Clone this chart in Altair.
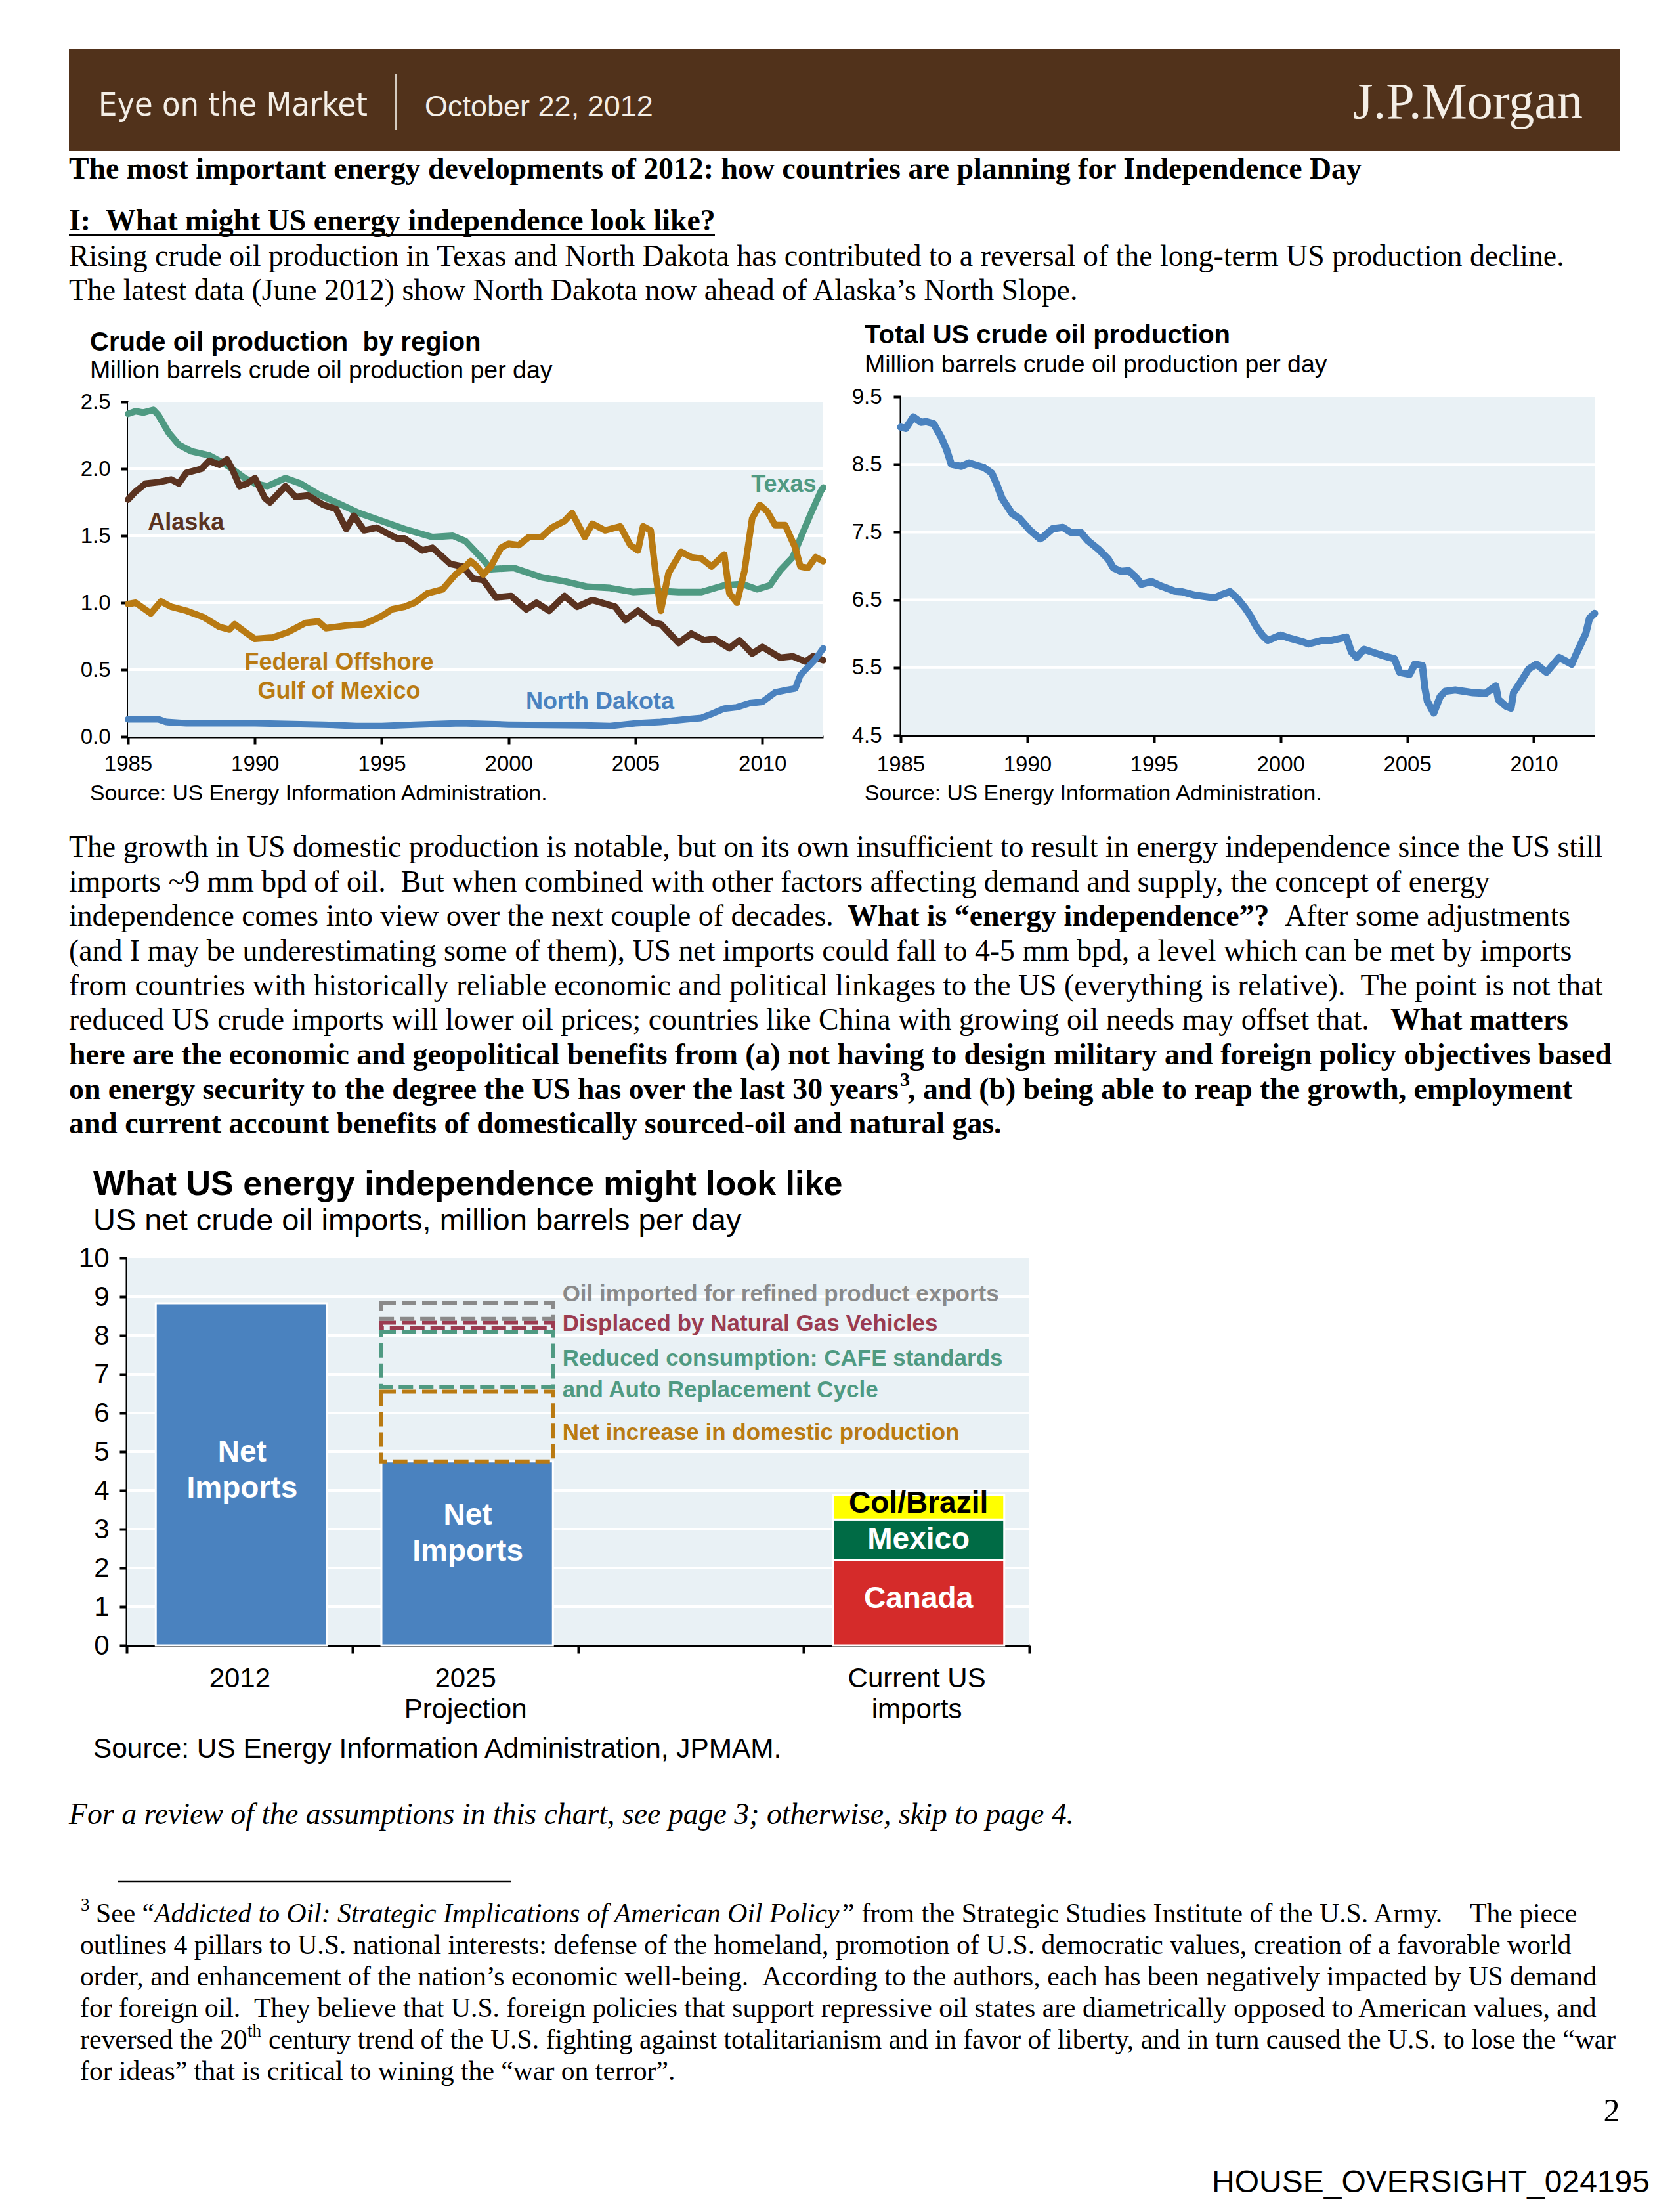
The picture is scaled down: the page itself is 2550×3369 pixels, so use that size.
import altair as alt
import pandas as pd

# ---------------------------------------------------------------- data
YEAR_TICKS = [1985, 1990, 1995, 2000, 2005, 2010]
REGION_Y_TICKS = [0.0, 0.5, 1.0, 1.5, 2.0, 2.5]
REGION_GRID = [0.5, 1.0, 1.5, 2.0]
TOTAL_Y_TICKS = [4.5, 5.5, 6.5, 7.5, 8.5, 9.5]
TOTAL_GRID = [5.5, 6.5, 7.5, 8.5]

texas_year = [1985.0, 1985.3, 1985.6, 1986.0, 1986.2, 1986.6, 1987.0, 1987.5, 1988.2, 1988.7,
              1989.1, 1989.6, 1990.0, 1990.5, 1991.2, 1991.8, 1992.5, 1993.2, 1994.1, 1995.0,
              1995.9, 1997.0, 1997.8, 1998.3, 1998.7, 1999.0, 1999.3, 2000.2, 2001.3, 2002.2,
              2003.1, 2004.0, 2004.9, 2005.8, 2006.7, 2007.6, 2008.5, 2009.2, 2009.8, 2010.3,
              2010.7, 2011.2, 2011.5, 2011.9, 2012.3, 2012.4]
texas_mbd = [2.41, 2.43, 2.42, 2.44, 2.40, 2.27, 2.18, 2.13, 2.10, 2.05,
             2.00, 1.93, 1.89, 1.87, 1.93, 1.89, 1.81, 1.75, 1.67, 1.61,
             1.55, 1.49, 1.50, 1.46, 1.38, 1.32, 1.25, 1.26, 1.19, 1.16,
             1.12, 1.11, 1.08, 1.09, 1.08, 1.08, 1.13, 1.14, 1.10, 1.13,
             1.24, 1.34, 1.48, 1.66, 1.83, 1.86]

alaska_year = [1985.0, 1985.3, 1985.7, 1986.2, 1986.7, 1987.0, 1987.3, 1987.9, 1988.2, 1988.6,
               1988.9, 1989.1, 1989.4, 1989.7, 1990.0, 1990.4, 1990.6, 1991.2, 1991.6, 1992.1,
               1992.7, 1993.2, 1993.6, 1993.9, 1994.3, 1994.8, 1995.6, 1995.9, 1996.6, 1997.0,
               1997.7, 1998.2, 1998.6, 1999.0, 1999.5, 2000.1, 2000.7, 2001.1, 2001.6, 2002.2,
               2002.7, 2003.3, 2004.2, 2004.6, 2005.1, 2005.7, 2006.0, 2006.7, 2007.2, 2007.7,
               2008.1, 2008.7, 2009.1, 2009.6, 2010.0, 2010.7, 2011.2, 2011.7, 2012.0, 2012.4]
alaska_mbd = [1.77, 1.83, 1.89, 1.90, 1.92, 1.89, 1.97, 2.00, 2.06, 2.03,
              2.07, 2.00, 1.87, 1.89, 1.93, 1.78, 1.75, 1.87, 1.79, 1.80,
              1.73, 1.70, 1.55, 1.65, 1.54, 1.56, 1.48, 1.48, 1.39, 1.41,
              1.29, 1.27, 1.18, 1.17, 1.04, 1.05, 0.95, 1.00, 0.94, 1.05,
              0.97, 1.02, 0.97, 0.87, 0.94, 0.85, 0.84, 0.70, 0.77, 0.72,
              0.73, 0.66, 0.72, 0.62, 0.67, 0.59, 0.60, 0.56, 0.60, 0.57]

gulf_year = [1985.0, 1985.3, 1985.9, 1986.3, 1986.7, 1987.3, 1988.0, 1988.6, 1989.0, 1989.2,
             1989.7, 1990.0, 1990.7, 1991.3, 1992.0, 1992.5, 1992.8, 1993.6, 1994.3, 1995.0,
             1995.4, 1995.9, 1996.3, 1996.8, 1997.4, 1997.9, 1998.3, 1998.5, 1998.7, 1999.0,
             1999.3, 1999.7, 2000.0, 2000.4, 2000.8, 2001.3, 2001.7, 2002.2, 2002.5, 2003.0,
             2003.3, 2003.8, 2004.4, 2004.8, 2005.1, 2005.3, 2005.6, 2005.8, 2006.0, 2006.3,
             2006.8, 2007.2, 2007.6, 2008.0, 2008.5, 2008.7, 2009.0, 2009.3, 2009.6, 2009.9,
             2010.2, 2010.5, 2010.9, 2011.3, 2011.5, 2011.8, 2012.1, 2012.4]
gulf_mbd = [0.99, 1.00, 0.92, 1.01, 0.97, 0.94, 0.89, 0.82, 0.80, 0.84,
            0.77, 0.73, 0.74, 0.78, 0.85, 0.86, 0.81, 0.83, 0.84, 0.90,
            0.95, 0.97, 1.00, 1.07, 1.10, 1.21, 1.27, 1.31, 1.28, 1.21,
            1.27, 1.41, 1.44, 1.43, 1.49, 1.49, 1.56, 1.61, 1.67, 1.49,
            1.59, 1.54, 1.57, 1.43, 1.39, 1.57, 1.54, 1.21, 0.94, 1.22,
            1.38, 1.34, 1.33, 1.27, 1.36, 1.07, 1.00, 1.24, 1.63, 1.73,
            1.68, 1.58, 1.58, 1.41, 1.27, 1.26, 1.34, 1.31]

nd_year = [1985.0, 1986.2, 1986.5, 1987.3, 1990.0, 1992.7, 1994.0, 1995.0, 1996.3, 1998.1,
           2000.0, 2003.0, 2004.0, 2005.0, 2006.0, 2007.0, 2007.6, 2008.0, 2008.5, 2009.0,
           2009.5, 2010.0, 2010.5, 2011.0, 2011.3, 2011.5, 2011.8, 2012.1, 2012.4]
nd_mbd = [0.13, 0.13, 0.11, 0.10, 0.10, 0.09, 0.08, 0.08, 0.09, 0.10,
          0.09, 0.085, 0.08, 0.10, 0.11, 0.13, 0.14, 0.17, 0.21, 0.22,
          0.25, 0.26, 0.33, 0.35, 0.36, 0.46, 0.52, 0.58, 0.66]

total_year = [1985.0, 1985.2, 1985.5, 1985.8, 1986.0, 1986.3, 1986.6, 1986.8, 1987.0, 1987.4,
              1987.7, 1988.3, 1988.6, 1988.8, 1989.0, 1989.4, 1989.7, 1990.1, 1990.5, 1990.6,
              1991.0, 1991.4, 1991.7, 1992.1, 1992.4, 1992.8, 1993.2, 1993.4, 1993.7, 1994.0,
              1994.3, 1994.5, 1994.9, 1995.3, 1995.8, 1996.1, 1996.6, 1997.0, 1997.4, 1997.7,
              1998.0, 1998.3, 1998.6, 1998.8, 1999.05, 1999.3, 1999.5, 2000.0, 2000.4, 2000.9,
              2001.1, 2001.6, 2002.0, 2002.6, 2002.8, 2003.0, 2003.3, 2003.7, 2004.1, 2004.5,
              2004.7, 2005.1, 2005.3, 2005.6, 2005.7, 2005.8, 2006.05, 2006.3, 2006.5, 2006.9,
              2007.6, 2008.1, 2008.5, 2008.6, 2008.9, 2009.1, 2009.2, 2009.5, 2009.8, 2010.1,
              2010.5, 2011.0, 2011.5, 2011.7, 2012.05, 2012.2, 2012.4]
total_mbd = [9.05, 9.03, 9.20, 9.12, 9.13, 9.10, 8.90, 8.73, 8.50, 8.47,
             8.52, 8.45, 8.37, 8.20, 8.00, 7.77, 7.70, 7.53, 7.40, 7.42,
             7.55, 7.57, 7.50, 7.50, 7.37, 7.25, 7.10, 6.97, 6.92, 6.93,
             6.83, 6.73, 6.77, 6.70, 6.63, 6.62, 6.57, 6.55, 6.53, 6.58,
             6.62, 6.52, 6.38, 6.27, 6.10, 5.97, 5.90, 5.98, 5.93, 5.88,
             5.85, 5.90, 5.90, 5.95, 5.73, 5.65, 5.77, 5.72, 5.67, 5.63,
             5.43, 5.40, 5.55, 5.53, 5.20, 5.00, 4.83, 5.07, 5.15, 5.17,
             5.13, 5.12, 5.23, 5.03, 4.93, 4.90, 5.13, 5.30, 5.48, 5.55,
             5.43, 5.65, 5.55, 5.72, 6.00, 6.23, 6.30]

# bar chart
BAR_CATEGORIES = ["2012", "2025|Projection", "gap", "Current US|imports"]
SOLID_CAT = ["2012", "2025|Projection", "Current US|imports", "Current US|imports", "Current US|imports"]
SOLID_SEG = ["Net imports 2012", "Net imports 2025", "Canada", "Mexico", "Col/Brazil"]
SOLID_VAL = [8.83, 4.75, 2.2, 1.05, 0.63]
BOX_SEG = ["Net increase in domestic production", "Reduced consumption",
           "Displaced by Natural Gas Vehicles", "Oil imported for refined product exports"]
BOX_LO = [4.75, 6.67, 8.19, 8.43]
BOX_HI = [6.55, 8.09, 8.33, 8.83]
BAR_Y_TICKS = list(range(0, 11))
BAR_GRID = list(range(1, 10))

# ---------------------------------------------------------------- style
SANS = "'Liberation Sans', Arial, sans-serif"
COND = "'DejaVu Sans Condensed', 'Liberation Sans', sans-serif"
SERIF = "'Liberation Serif', 'Times New Roman', serif"
BROWN_HDR = "#51321B"
CREAM = "#F4EEE6"
BG = "#E9F1F5"
TEAL = "#4F9A82"
ALASKA = "#5B3320"
GOLD = "#B97A12"
BLUE = "#4A82BF"
RED = "#D52B2A"
MEX = "#006B45"
YELLOW = "#FFFF00"
MAROON = "#9B3B50"
GRAY = "#8A8A8A"
BODY = 45.8
PAGE_W = 2534
NB = "\u00a0"

ONE = pd.DataFrame({"k": [0]})


def keep_spaces(s):
    return s.replace("  ", " " + NB)


def T(text, x, y, size, font=SERIF, weight="normal", style="normal", color="black",
      align="left", baseline="middle"):
    return alt.Chart(ONE).mark_text(
        text=keep_spaces(text), font=font, fontSize=size, fontWeight=weight, fontStyle=style,
        color=color, align=align, baseline=baseline
    ).encode(x=alt.value(x), y=alt.value(y))


def rect(x0, x1, y0, y1, color):
    return alt.Chart(ONE).mark_rect(color=color).encode(
        x=alt.value(x0), x2=alt.value(x1), y=alt.value(y0), y2=alt.value(y1))


def axis_x(pad, offset=0):
    return alt.Axis(values=YEAR_TICKS, format="d", title=None, grid=False, orient="bottom",
                    offset=offset, domainColor="black", domainWidth=4, tickColor="black",
                    tickWidth=4, tickSize=11, labelFont=SANS, labelFontSize=33,
                    labelColor="black", labelPadding=pad, labelFlush=False, labelOverlap=False)


def axis_y(vals, pad, offset, size=33, fmt=".1f"):
    return alt.Axis(values=vals, format=fmt, title=None, grid=False, orient="left",
                    offset=offset, domainColor="black", domainWidth=4, tickColor="black",
                    tickWidth=4, tickSize=11, labelFont=SANS, labelFontSize=size,
                    labelColor="black", labelPadding=pad, labelFlush=False, labelOverlap=False)


# ---------------------------------------------------------------- row B: two line charts
HB = 518
X1L, X1R, Y1T, Y1B = 187, 1246, 8, 518
X2L, X2R, Y2T, Y2B = 1364, 2421, 0, 516

xs1 = alt.Scale(domain=[1985, 2012.4], nice=False, zero=False, range=[X1L, X1R])
ys1 = alt.Scale(domain=[0, 2.5], nice=False, zero=False, range=[Y1B, Y1T])
xa1 = axis_x(14, 0)
ya1 = axis_y(REGION_Y_TICKS, 16, -X1L)

layers1 = [rect(X1L, X1R, Y1T, Y1B, BG),
           alt.Chart(pd.DataFrame({"g": REGION_GRID})).mark_rule(color="white", strokeWidth=4).encode(
               y=alt.Y("g:Q", scale=ys1, axis=ya1), x=alt.value(X1L), x2=alt.value(X1R))]
for yrs, vals, col in [(texas_year, texas_mbd, TEAL), (alaska_year, alaska_mbd, ALASKA),
                       (gulf_year, gulf_mbd, GOLD), (nd_year, nd_mbd, BLUE)]:
    df = pd.DataFrame({"year": yrs, "mbd": vals})
    layers1.append(alt.Chart(df).mark_line(color=col, strokeWidth=10, strokeJoin="round",
                                           strokeCap="round").encode(
        x=alt.X("year:Q", scale=xs1, axis=xa1), y=alt.Y("mbd:Q", scale=ys1, axis=ya1)))

REGION_LABELS = ["Texas", "Alaska", "Federal Offshore", "Gulf of Mexico", "North Dakota"]
REGION_LABEL_X = [2012.13, 1985.78, 1993.32, 1993.32, 2000.68]
REGION_LABEL_Y = [1.88, 1.60, 0.554, 0.338, 0.26]
REGION_LABEL_COL = [TEAL, ALASKA, GOLD, GOLD, BLUE]
REGION_LABEL_ALIGN = ["right", "left", "center", "center", "left"]
for i, lab in enumerate(REGION_LABELS):
    df = pd.DataFrame({"year": [REGION_LABEL_X[i]], "mbd": [REGION_LABEL_Y[i]]})
    layers1.append(alt.Chart(df).mark_text(text=lab, font=SANS, fontSize=36, fontWeight="bold",
                                           color=REGION_LABEL_COL[i], align=REGION_LABEL_ALIGN[i],
                                           baseline="middle").encode(
        x=alt.X("year:Q", scale=xs1, axis=xa1), y=alt.Y("mbd:Q", scale=ys1, axis=ya1)))
chart1 = alt.layer(*layers1)

xs2 = alt.Scale(domain=[1985, 2012.4], nice=False, zero=False, range=[X2L, X2R])
ys2 = alt.Scale(domain=[4.5, 9.5], nice=False, zero=False, range=[Y2B, Y2T])
xa2 = axis_x(17, Y2B - HB)
ya2 = axis_y(TOTAL_Y_TICKS, 18, -X2L)
grid2 = alt.Chart(pd.DataFrame({"g": TOTAL_GRID})).mark_rule(color="white", strokeWidth=4).encode(
    y=alt.Y("g:Q", scale=ys2, axis=ya2), x=alt.value(X2L), x2=alt.value(X2R))
line2 = alt.Chart(pd.DataFrame({"year": total_year, "mbd": total_mbd})).mark_line(
    color=BLUE, strokeWidth=11, strokeJoin="round", strokeCap="round").encode(
    x=alt.X("year:Q", scale=xs2, axis=xa2), y=alt.Y("mbd:Q", scale=ys2, axis=ya2))
chart2 = alt.layer(rect(X2L, X2R, Y2T, Y2B, BG), grid2, line2)

rowB = alt.layer(chart1, chart2).resolve_scale(
    x="independent", y="independent").resolve_axis(
    x="independent", y="independent").properties(width=PAGE_W, height=HB)

# ---------------------------------------------------------------- row D: bar chart
HD = 590
X3L, X3R = 185, 1560
xs3 = alt.Scale(domain=BAR_CATEGORIES, paddingInner=0, paddingOuter=0, range=[X3L, X3R])
ys3 = alt.Scale(domain=[0, 10], nice=False, zero=True)
xa3 = alt.Axis(title=None, labelExpr="datum.label == 'gap' ? '' : split(datum.label, '|')",
               tickBand="extent", tickSize=12, tickWidth=4, tickColor="black",
               domainColor="black", domainWidth=4, labelFont=SANS, labelFontSize=42,
               labelColor="black", labelPadding=18, labelLineHeight=47, labelAngle=0,
               labelLimit=1000, grid=False, orient="bottom")
ya3 = alt.Axis(values=BAR_Y_TICKS, format="d", title=None, grid=False, domainColor="black",
               domainWidth=4, tickColor="black", tickWidth=4, tickSize=11, labelFont=SANS,
               labelFontSize=42, labelColor="black", labelPadding=16, labelFlush=False,
               labelOverlap=False, orient="left", offset=-X3L)
BARW = alt.RelativeBandSize(0.76)

grid3 = alt.Chart(pd.DataFrame({"g": BAR_GRID})).mark_rule(color="white", strokeWidth=4).encode(
    y=alt.Y("g:Q", scale=ys3, axis=ya3), x=alt.value(X3L), x2=alt.value(X3R))
solid_df = pd.DataFrame({"cat": SOLID_CAT, "seg": SOLID_SEG, "val": SOLID_VAL,
                         "ord": list(range(len(SOLID_SEG)))})
bars = alt.Chart(solid_df).mark_bar(width=BARW, stroke="white", strokeWidth=3, xOffset=3).encode(
    x=alt.X("cat:N", scale=xs3, axis=xa3),
    y=alt.Y("val:Q", scale=ys3, axis=ya3, stack="zero"),
    color=alt.Color("seg:N", scale=alt.Scale(domain=SOLID_SEG, range=[BLUE, BLUE, RED, MEX, YELLOW]),
                    legend=None),
    order=alt.Order("ord:Q"))
box_df = pd.DataFrame({"cat": ["2025|Projection"] * len(BOX_SEG), "seg": BOX_SEG,
                       "lo": BOX_LO, "hi": BOX_HI})
boxes = alt.Chart(box_df).mark_bar(width=BARW, fillOpacity=0, strokeWidth=6, xOffset=3,
                                   strokeDash=[22, 9]).encode(
    x=alt.X("cat:N", scale=xs3, axis=xa3),
    y=alt.Y("lo:Q", scale=ys3, axis=ya3), y2="hi:Q",
    stroke=alt.Stroke("seg:N", scale=alt.Scale(domain=BOX_SEG, range=[GOLD, TEAL, MAROON, GRAY]),
                      legend=None))

layers3 = [rect(X3L, X3R, 0, HD, BG), grid3, bars, boxes]
NET_LABEL_CAT = ["2012", "2025|Projection"]
NET_LABEL_Y = [4.98, 3.36]
for c, yv in zip(NET_LABEL_CAT, NET_LABEL_Y):
    df = pd.DataFrame({"cat": [c], "y": [yv]})
    layers3.append(alt.Chart(df).mark_text(text=["Net", "Imports"], lineHeight=55, font=SANS,
                                           fontSize=46, fontWeight="bold", color="white",
                                           align="center", baseline="middle", dx=4).encode(
        x=alt.X("cat:N", scale=xs3, axis=xa3), y=alt.Y("y:Q", scale=ys3, axis=ya3)))
STACK_LABELS = ["Canada", "Mexico", "Col/Brazil"]
STACK_LABEL_Y = [1.2, 2.73, 3.66]
STACK_LABEL_COL = ["white", "white", "black"]
for lab, yv, col in zip(STACK_LABELS, STACK_LABEL_Y, STACK_LABEL_COL):
    df = pd.DataFrame({"cat": ["Current US|imports"], "y": [yv]})
    layers3.append(alt.Chart(df).mark_text(text=lab, font=SANS, fontSize=46, fontWeight="bold",
                                           color=col, align="center", baseline="middle", dx=3).encode(
        x=alt.X("cat:N", scale=xs3, axis=xa3), y=alt.Y("y:Q", scale=ys3, axis=ya3)))
LEG_TEXT = ["Oil imported for refined product exports", "Displaced by Natural Gas Vehicles",
            "Reduced consumption: CAFE standards", "and Auto Replacement Cycle",
            "Net increase in domestic production"]
LEG_Y = [9.06, 8.30, 7.40, 6.60, 5.50]
LEG_COL = [GRAY, MAROON, TEAL, TEAL, GOLD]
for lab, yv, col in zip(LEG_TEXT, LEG_Y, LEG_COL):
    df = pd.DataFrame({"cat": ["2025|Projection"], "y": [yv]})
    layers3.append(alt.Chart(df).mark_text(text=lab, font=SANS, fontSize=35, fontWeight="bold",
                                           color=col, align="left", baseline="middle", dx=148).encode(
        x=alt.X("cat:N", scale=xs3, axis=xa3), y=alt.Y("y:Q", scale=ys3, axis=ya3)))
rowD = alt.layer(*layers3).properties(width=PAGE_W, height=HD)

# ---------------------------------------------------------------- page text
HEAD_TITLE = "The most important energy developments of 2012: how countries are planning for Independence Day"
HEAD_SECTION = "I:  What might US energy independence look like?"
INTRO = ["Rising crude oil production in Texas and North Dakota has contributed to a reversal of the long-term US production decline.",
         "The latest data (June 2012) show North Dakota now ahead of Alaska\u2019s North Slope."]

rowA_layers = [
    rect(97, 2460, 67, 222, BROWN_HDR),
    T("Eye on the Market", 142, 153, 50, font=COND, color=CREAM),
    alt.Chart(ONE).mark_rule(color="#D5CCC1", strokeWidth=2).encode(
        x=alt.value(595), y=alt.value(104), y2=alt.value(190)),
    T("October 22, 2012", 639, 155, 45, font=SANS, color=CREAM),
    T("J.P.Morgan", 2403, 172, 78, font=SERIF, color=CREAM, align="right", baseline="alphabetic"),
    T(HEAD_TITLE, 97, 250, BODY, weight="bold"),
    T(HEAD_SECTION, 97, 329, BODY, weight="bold"),
    alt.Chart(ONE).mark_rule(color="black", strokeWidth=3).encode(
        x=alt.value(97), x2=alt.value(1081), y=alt.value(350)),
    T(INTRO[0], 97, 383, BODY),
    T(INTRO[1], 97, 434.5, BODY),
    T("Crude oil production  by region", 129, 514, 40, font=SANS, weight="bold"),
    T("Million barrels crude oil production per day", 129, 557, 37.5, font=SANS),
    T("Total US crude oil production", 1309, 503, 40, font=SANS, weight="bold"),
    T("Million barrels crude oil production per day", 1309, 548, 37.5, font=SANS),
]
rowA = alt.layer(*rowA_layers).properties(width=PAGE_W, height=596)

SOURCE_EIA = "Source: US Energy Information Administration."
PARA = [
    [("The growth in US domestic production is notable, but on its own insufficient to result in energy independence since the US still", "normal")],
    [("imports ~9 mm bpd of oil.  But when combined with other factors affecting demand and supply, the concept of energy", "normal")],
    [("independence comes into view over the next couple of decades.", "normal"),
     ("What is \u201cenergy independence\u201d?", "bold"), ("After some adjustments", "normal")],
    [("(and I may be underestimating some of them), US net imports could fall to 4-5 mm bpd, a level which can be met by imports", "normal")],
    [("from countries with historically reliable economic and political linkages to the US (everything is relative).  The point is not that", "normal")],
    [("reduced US crude imports will lower oil prices; countries like China with growing oil needs may offset that.", "normal"),
     ("What matters", "bold")],
    [("here are the economic and geopolitical benefits from (a) not having to design military and foreign policy objectives based", "bold")],
    [("on energy security to the degree the US has over the last 30 years", "bold"), ("3", "sup"),
     (", and (b) being able to reap the growth, employment", "bold")],
    [("and current account benefits of domestically sourced-oil and natural gas.", "bold")],
]
PARA_X = [[97], [97], [97, 1283, 1949], [97], [97], [97, 2110], [97], [97, 1363, 1375], [97]]
PARA_Y0, PARA_DY = 169, 52.67

rowC_layers = [T(SOURCE_EIA, 129, 87, 33.7, font=SANS), T(SOURCE_EIA, 1309, 87, 33.7, font=SANS)]
for i, segs in enumerate(PARA):
    y = PARA_Y0 + i * PARA_DY
    for (s, kind), x in zip(segs, PARA_X[i]):
        if kind == "sup":
            rowC_layers.append(T(s, x, y - 15, 30, weight="bold"))
        else:
            rowC_layers.append(T(s, x, y, BODY, weight=kind))
rowC_layers += [
    T("What US energy independence might look like", 134, 682, 52, font=SANS, weight="bold"),
    T("US net crude oil imports, million barrels per day", 134, 738, 47, font=SANS),
]
rowC = alt.layer(*rowC_layers).properties(width=PAGE_W, height=794)

FOOT = 41.7
FOOTNOTE = [
    [("See \u201c", "normal"), ("Addicted to Oil: Strategic Implications of American Oil Policy", "italic"),
     ("\u201d from the Strategic Studies Institute of the U.S. Army.    The piece", "normal")],
    [("outlines 4 pillars to U.S. national interests: defense of the homeland, promotion of U.S. democratic values, creation of a favorable world", "normal")],
    [("order, and enhancement of the nation\u2019s economic well-being.  According to the authors, each has been negatively impacted by US demand", "normal")],
    [("for foreign oil.  They believe that U.S. foreign policies that support repressive oil states are diametrically opposed to American values, and", "normal")],
    [("reversed the 20", "normal"), ("th", "sup"),
     ("century trend of the U.S. fighting against totalitarianism and in favor of liberty, and in turn caused the U.S. to lose the \u201cwar", "normal")],
    [("for ideas\u201d that is critical to wining the \u201cwar on terror\u201d.", "normal")],
]
FOOT_X = [[138, 227, 1275], [114], [114], [114], [114, 369, 401], [114]]
FOOT_Y0, FOOT_DY = 409, 48

rowE_layers = [
    T("Source: US Energy Information Administration, JPMAM.", 134, 158, 42.4, font=SANS),
    T("For a review of the assumptions in this chart, see page 3; otherwise, skip to page 4.", 97, 258,
      BODY, style="italic"),
    alt.Chart(ONE).mark_rule(color="black", strokeWidth=2.5).encode(
        x=alt.value(172), x2=alt.value(770), y=alt.value(360)),
    T("3", 115, FOOT_Y0 - 13, 27),
]
for i, segs in enumerate(FOOTNOTE):
    y = FOOT_Y0 + i * FOOT_DY
    for (s, kind), x in zip(segs, FOOT_X[i]):
        if kind == "sup":
            rowE_layers.append(T(s, x, y - 13, 27))
        elif kind == "italic":
            rowE_layers.append(T(s, x, y, FOOT, style="italic"))
        else:
            rowE_layers.append(T(s, x, y, FOOT))
rowE_layers += [
    T("2", 2447, 710, 50, align="center"),
    T("HOUSE_OVERSIGHT_024195", 2505, 819, 48, font=SANS, align="right"),
]
rowE = alt.layer(*rowE_layers).properties(width=PAGE_W, height=850)

# ---------------------------------------------------------------- page
chart = alt.VConcatChart(
    vconcat=[rowA, rowB, rowC, rowD, rowE], spacing=0, bounds="flush", padding=0,
).configure_view(strokeWidth=0)

chart.save("out.html", embed_options={"renderer": "svg", "actions": False})
